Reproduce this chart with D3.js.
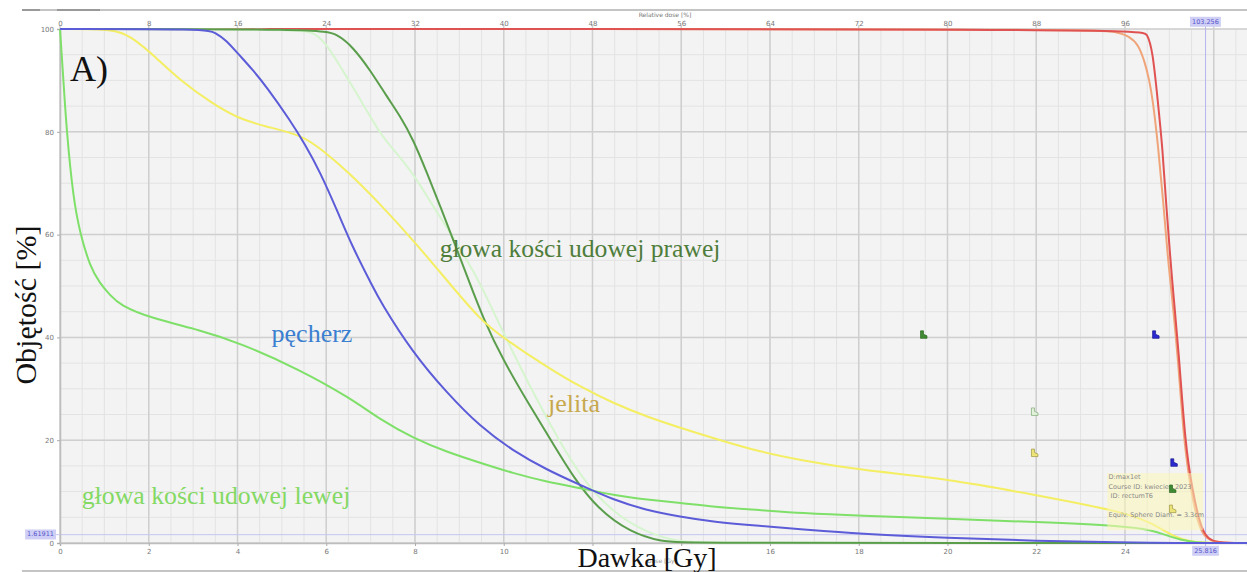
<!DOCTYPE html>
<html>
<head>
<meta charset="utf-8">
<script src="https://cdn.jsdelivr.net/npm/d3@7/dist/d3.min.js"></script>
<style>
  html, body { margin: 0; padding: 0; background: #fff; }
  svg { display: block; }
  .tick text { font-family: "DejaVu Sans", sans-serif; font-size: 7px; fill: #777; }
  .tick line { stroke: #aaa; }
  .domain { stroke: #bdbdbd; stroke-width: 1.5px; }
  .serif { font-family: "Liberation Serif", "Times New Roman", serif; }
</style>
</head>
<body>
<svg id="chart" width="1247" height="572"></svg>
<script>
// dose [Gy] / volume [%] pairs
const pecherz = [[0, 100], [3.3, 100], [3.5, 99.3], [3.75, 97.8], [4, 95.3], [4.33, 92.2],
  [4.66, 88.7], [5.18, 82.3], [5.52, 77.6], [5.86, 72.2], [6.24, 64.8], [6.6, 57.4], [7.03, 50.2],
  [7.21, 47.1], [7.95, 37], [8.72, 29.2], [9.47, 22.6], [10.2, 18], [10.98, 14.2], [11.72, 11.3],
  [12.47, 8.4], [13.2, 6.4], [13.98, 5.1], [14.72, 4.1], [15.78, 3.3], [16.7, 2.7], [18, 1.8],
  [20, 1.0], [22, 0.4], [24, 0.1], [25, 0], [26.75, 0]];

const jelita = [[0, 100], [1.24, 100], [1.6, 98.5], [2.1, 95], [2.7, 90], [3.45, 85.4], [4, 82.7],
  [4.58, 81.1], [5.46, 79.4], [5.93, 76.3], [6.47, 72.4], [7.21, 66], [7.96, 58.9], [8.72, 51.1],
  [9.47, 43.4], [9.99, 39.9], [10.98, 34.2], [11.72, 30.4], [12.47, 27.2], [13.24, 24.5],
  [13.98, 22.4], [14.72, 20.4], [15.78, 17.7], [16.7, 16.1], [18, 14.2], [20, 12.5], [22, 9.3],
  [24, 6], [24.6, 3.9], [25.1, 1.2], [25.5, 0.2], [25.8, 0], [26.75, 0]];

const glowaLewa = [[0, 100], [0.03, 96], [0.07, 91], [0.15, 80], [0.3, 67], [0.45, 60.3],
  [0.68, 53.7], [0.9, 50.5], [1.13, 48.2], [1.35, 46.3], [2.03, 43.8], [3.16, 41.4], [4.06, 38.9],
  [5.41, 33.7], [6.54, 28.2], [7.22, 24], [7.96, 20.4], [8.72, 17.7], [9.47, 15.6], [10.2, 13.6],
  [10.98, 11.9], [11.72, 10.7], [12.47, 9.3], [13.24, 8.4], [13.98, 7.8], [14.72, 7.0], [15.78, 6.4],
  [16.7, 5.8], [18, 5.3], [20, 4.7], [22, 4.1], [24, 3.3], [24.6, 2.5], [24.9, 1.6], [25.25, 0.6],
  [25.6, 0.1], [26, 0], [26.75, 0]];

const glowaPrawa = [[0, 100], [5.86, 100], [6.25, 99], [6.6, 96.5], [6.99, 92], [7.37, 86.8],
  [7.67, 83], [7.96, 78.5], [8.27, 72], [8.57, 65.5], [8.86, 59], [9.18, 51.8], [9.54, 43.6],
  [9.99, 35.5], [10.6, 26.5], [11.12, 19.2], [11.57, 12.8], [12.1, 6.8], [12.85, 2], [13.6, 0.2],
  [14, 0], [26.75, 0]];

const glowaPrawaBlada = [[0, 100], [5.41, 100], [5.75, 99.2], [6.02, 97], [6.47, 90.5], [6.83, 85.4],
  [7.21, 79.6], [7.6, 75.7], [7.96, 71.8], [8.34, 66.5], [8.72, 61.3], [9.09, 56.2], [9.45, 51],
  [10.2, 37], [10.98, 24], [11.72, 12.8], [12.47, 5.8], [13.24, 1.9], [13.98, 0.2], [14.5, 0], [26.75, 0]];

const ptv = [[0, 100], [24.35, 100], [24.5, 99.2], [24.62, 96], [24.74, 86], [24.85, 76.5],
  [24.92, 66.7], [25.07, 50], [25.21, 37.5], [25.36, 19], [25.52, 10.3], [25.68, 4], [25.8, 1.6],
  [25.95, 0.3], [26.3, 0], [26.75, 0]];

const ptvOrange = [[0, 100], [23.3, 100], [23.8, 99.5], [24.1, 98.6], [24.3, 97], [24.45, 93.5],
  [24.55, 90], [24.63, 86], [24.75, 77], [24.86, 66.7], [24.97, 55], [25.05, 49], [25.2, 35.5],
  [25.33, 19.5], [25.49, 10], [25.64, 4], [25.78, 1.2], [26, 0.2], [26.3, 0], [26.75, 0]];

// constraint markers: [dose, volume, fill, stroke]
const markers = [[19.46, 40.5, '#3f8a32', '#2e6a25'], [24.69, 40.5, '#2a2ad0', '#1a1a90'],
  [21.96, 25.5, '#e4f2dc', '#7aa870'], [21.96, 17.5, '#eee57a', '#9e9440'],
  [25.1, 15.6, '#2a2ad0', '#1a1a90'], [25.07, 10.5, '#3f8a32', '#2e6a25'],
  [25.07, 6.6, '#eee57a', '#9e9440']];

const doseTicks = d3.range(0, 25, 2);
const hiddenDoseLabels = [12, 14]; // covered by the pasted axis title in the original
const relTicks = d3.range(0, 97, 8);
const volTicks = d3.range(0, 101, 20);
const cursorDose = 25.816;
const cursorRel = 103.256;
const cursorVol = 1.61911;
const tooltipLines = ['D:max1et', 'Course ID: kwiecien.2023', ' ID: rectumT6', '', 'Equiv. Sphere Diam. = 3.3cm'];

const W = 1247;
const plot = { left: 60, right: 1247, top: 29, bottom: 543 };

const svg = d3.select('#chart');
const x = d3.scaleLinear().domain([0, 26.75]).range([plot.left, plot.right]);
const xRel = d3.scaleLinear().domain([0, 26.75 * 4]).range([plot.left, plot.right]);
const y = d3.scaleLinear().domain([0, 100]).range([plot.bottom, plot.top]);

// window frame lines
svg.append('line').attr('x1', 22).attr('x2', W).attr('y1', 10).attr('y2', 10)
  .attr('stroke', '#c4c4c4').attr('stroke-width', 2);
svg.append('line').attr('x1', 22).attr('x2', 40).attr('y1', 10).attr('y2', 10)
  .attr('stroke', '#999').attr('stroke-width', 2);
svg.append('line').attr('x1', 57).attr('x2', 100).attr('y1', 10).attr('y2', 10)
  .attr('stroke', '#999').attr('stroke-width', 2);
svg.append('line').attr('x1', 22).attr('x2', W).attr('y1', 571).attr('y2', 571)
  .attr('stroke', '#c4c4c4').attr('stroke-width', 2);

svg.append('rect')
  .attr('x', plot.left).attr('y', plot.top)
  .attr('width', plot.right - plot.left).attr('height', plot.bottom - plot.top)
  .attr('fill', '#f3f3f3');

// grid
const grid = svg.append('g');
grid.selectAll('.vmin').data(d3.range(0, 26.75, 0.5)).enter().append('line')
  .attr('x1', d => x(d)).attr('x2', d => x(d)).attr('y1', plot.top).attr('y2', plot.bottom)
  .attr('stroke', '#e3e3e3').attr('stroke-width', 1);
grid.selectAll('.hmin').data(d3.range(0, 101, 5)).enter().append('line')
  .attr('x1', plot.left).attr('x2', plot.right).attr('y1', d => y(d)).attr('y2', d => y(d))
  .attr('stroke', '#e3e3e3').attr('stroke-width', 1);
grid.selectAll('.vmaj').data(d3.range(0, 26.75, 2)).enter().append('line')
  .attr('x1', d => x(d)).attr('x2', d => x(d)).attr('y1', plot.top - 4).attr('y2', plot.bottom)
  .attr('stroke', '#cfcfcf').attr('stroke-width', 1.5);
grid.selectAll('.hmaj').data(volTicks).enter().append('line')
  .attr('x1', plot.left).attr('x2', plot.right).attr('y1', d => y(d)).attr('y2', d => y(d))
  .attr('stroke', '#cfcfcf').attr('stroke-width', 1.5);

// cursor lines
svg.append('line').attr('x1', x(cursorDose)).attr('x2', x(cursorDose))
  .attr('y1', plot.top - 4).attr('y2', plot.bottom + 4)
  .attr('stroke', '#b4b4ee').attr('stroke-width', 1);
svg.append('line').attr('x1', plot.left - 4).attr('x2', plot.right)
  .attr('y1', y(cursorVol)).attr('y2', y(cursorVol))
  .attr('stroke', '#c6c6f2').attr('stroke-width', 1);

// axes
svg.append('g').attr('transform', `translate(0,${plot.bottom})`)
  .call(d3.axisBottom(x).tickValues(doseTicks).tickSize(3).tickPadding(3)
    .tickFormat(d => (hiddenDoseLabels.includes(d) ? '' : d)));
svg.append('g').attr('transform', `translate(${plot.left},0)`)
  .call(d3.axisLeft(y).tickValues(volTicks).tickSize(3).tickPadding(3));
const relAxis = svg.append('g').attr('transform', `translate(0,${plot.top})`)
  .call(d3.axisTop(xRel).tickValues(relTicks).tickSize(0).tickPadding(3));
relAxis.select('.domain').remove();
svg.append('text').attr('x', 665).attr('y', 17).attr('text-anchor', 'middle')
  .style('font-family', 'DejaVu Sans, sans-serif').style('font-size', '6px').attr('fill', '#777')
  .text('Relative dose [%]');

function cursorLabel(px, py, txt, anchor) {
  const g = svg.append('g');
  const t = g.append('text').attr('x', px).attr('y', py).attr('text-anchor', anchor)
    .attr('dominant-baseline', 'middle')
    .style('font-family', 'DejaVu Sans, sans-serif').style('font-size', '6.5px').attr('fill', '#55c')
    .text(txt);
  const b = t.node().getBBox();
  g.insert('rect', 'text').attr('x', b.x - 2).attr('y', b.y - 1)
    .attr('width', b.width + 4).attr('height', b.height + 2).attr('fill', '#cfcff5');
}
cursorLabel(xRel(cursorRel), 22, cursorRel.toFixed(3), 'middle');
cursorLabel(x(cursorDose), 551, cursorDose.toFixed(3), 'middle');
cursorLabel(plot.left - 6, y(cursorVol), String(cursorVol), 'end');

// DVH curves, bottom to top
const line = d3.line().x(d => x(d[0])).y(d => y(d[1])).curve(d3.curveBasis);
const series = [
  [ptvOrange, '#f0a47a'],
  [ptv, '#e05252'],
  [glowaPrawaBlada, '#d6f5cf'],
  [glowaPrawa, '#5a9e4c'],
  [jelita, '#f4ee62'],
  [glowaLewa, '#7ee068'],
  [pecherz, '#5c5cd8'],
];
svg.append('g').selectAll('path').data(series).enter().append('path')
  .attr('d', d => line(d[0]))
  .attr('fill', 'none')
  .attr('stroke', d => d[1])
  .attr('stroke-width', 2);

// tooltip box
svg.append('rect')
  .attr('x', x(23.6)).attr('y', y(13.6))
  .attr('width', x(25.76) - x(23.6)).attr('height', y(2.5) - y(13.6))
  .attr('fill', '#fbf6b8').attr('opacity', 0.55);
svg.append('g').selectAll('text').data(tooltipLines).enter().append('text')
  .attr('x', x(23.63)).attr('y', (d, i) => y(12.4) + i * 9.5)
  .style('font-family', 'DejaVu Sans, sans-serif').style('font-size', '6.5px')
  .attr('fill', '#888').attr('xml:space', 'preserve')
  .text(d => d);

// constraint markers
svg.append('g').selectAll('path').data(markers).enter().append('path')
  .attr('transform', d => `translate(${x(d[0]) - 3},${y(d[1]) - 4})`)
  .attr('d', 'M0,0 h3 v3.5 l3.5,1.5 v2.5 h-6.5 z')
  .attr('fill', d => d[2])
  .attr('stroke', d => d[3])
  .attr('stroke-width', 0.7);

// annotations
svg.append('text').attr('class', 'serif').attr('x', 70).attr('y', 81)
  .style('font-size', '36px').attr('fill', '#111').text('A)');
svg.append('text').attr('class', 'serif')
  .attr('transform', 'translate(36,305) rotate(-90)').attr('text-anchor', 'middle')
  .style('font-size', '30px').attr('fill', '#111').text('Objętość [%]');
svg.append('text').attr('x', 662).attr('y', 563).attr('text-anchor', 'middle')
  .style('font-family', 'DejaVu Sans, sans-serif').style('font-size', '6px').attr('fill', '#999')
  .text('Dose [Gy]');
svg.append('text').attr('class', 'serif').attr('x', 647).attr('y', 567).attr('text-anchor', 'middle')
  .style('font-size', '28px').attr('fill', '#111').text('Dawka [Gy]');

const organLabels = [
  ['głowa kości udowej prawej', 580, 257, '#4f7d3b', 25.6],
  ['pęcherz', 312, 342, '#3a7fd0', 26],
  ['jelita', 574, 412, '#c7a84c', 26],
  ['głowa kości udowej lewej', 216, 504, '#84d964', 25.8],
];
svg.append('g').selectAll('text').data(organLabels).enter().append('text')
  .attr('class', 'serif')
  .attr('x', d => d[1]).attr('y', d => d[2])
  .attr('text-anchor', 'middle')
  .style('font-size', d => d[4] + 'px')
  .attr('fill', d => d[3])
  .text(d => d[0]);
</script>
</body>
</html>
